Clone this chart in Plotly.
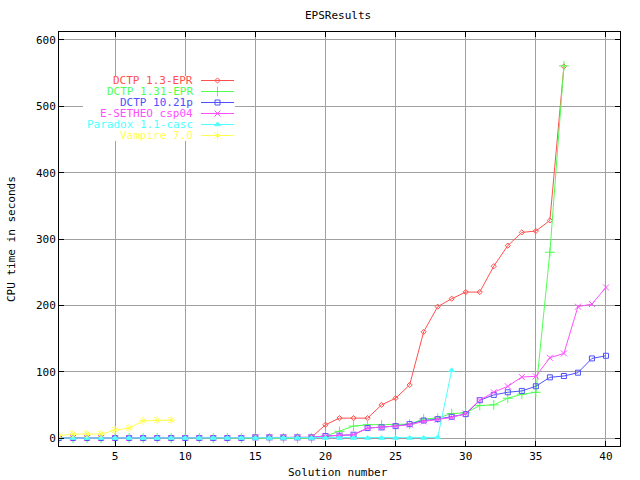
import plotly.graph_objects as go

# ---------------- data ----------------
solution_dctp13 = list(range(1, 38))
time_dctp13 = [0]*14 + [1, 1, 1, 1, 1, 20, 30, 30, 30, 50, 60, 80, 160, 198, 210,
                        220, 220, 259, 290, 310, 312, 328, 560]

solution_dctp131 = list(range(1, 38))
time_dctp131 = [0]*14 + [0, 0, 0, 0, 0, 3, 10, 18, 20, 20, 20, 21, 29, 30, 37,
                         38, 49, 50, 60, 66, 69, 280, 561]

solution_dctp1021 = list(range(1, 41))
time_dctp1021 = [0]*14 + [1, 1, 1, 1, 1, 3, 3.5, 5, 15, 16, 18, 21, 26.5, 28.5, 32,
                          36, 57, 65, 69, 71, 78, 91.5, 93.5, 98.5, 120, 124]

solution_esetheo = list(range(1, 41))
time_esetheo = [0]*14 + [1, 1, 1, 1, 1, 3, 4, 5, 15, 16, 18, 20, 25, 28, 31,
                         37, 57, 69, 78, 92, 93, 121, 127.5, 198, 202, 227]

solution_paradox = list(range(1, 30))
time_paradox = [0]*27 + [1, 102]

solution_vampire = list(range(1, 10))
time_vampire = [3.5, 6, 6, 6, 12, 15, 26, 27, 27]

series_names = ["DCTP 1.3-EPR", "DCTP 1.31-EPR", "DCTP 10.21p",
                "E-SETHEO csp04", "Paradox 1.1-casc", "Vampire 7.0"]
series_x = [solution_dctp13, solution_dctp131, solution_dctp1021,
            solution_esetheo, solution_paradox, solution_vampire]
series_y = [time_dctp13, time_dctp131, time_dctp1021,
            time_esetheo, time_paradox, time_vampire]

x_ticks = [5, 10, 15, 20, 25, 30, 35, 40]
y_ticks = [0, 100, 200, 300, 400, 500, 600]

# ---------------- styles ----------------
colors = ["#ff5050", "#50ff50", "#5050ff", "#ff50ff", "#50ffff", "#ffff50"]
symbols = ["diamond-open", "cross-thin-open", "square-open",
           "x-thin-open", "triangle-up", "asterisk-open"]
sizes = [4, 7, 5, 6, 5, 7]

FONT = "DejaVu Sans Mono"
FS = 11

fig = go.Figure()

for name, xs, ys, c, s, sz in zip(series_names, series_x, series_y, colors, symbols, sizes):
    fig.add_trace(go.Scatter(
        x=xs, y=ys, mode="lines+markers", name=name,
        line=dict(color=c, width=1),
        marker=dict(symbol=s, size=sz, color=c, line=dict(color=c, width=1)),
        showlegend=False, xaxis="x", yaxis="y",
    ))

# ---------------- custom gnuplot-style key (text on the left, sample on the right) ----
# page pixels of the plot frame
L, R, T, B = 59, 620, 32, 446
row0, row_step = 80.5, 11
text_right = 194
sample_x0, sample_x1 = 201, 234
box_x0, box_x1, box_y0, box_y1 = 83, 235, 76, 141

# white box behind the key (hides grid lines like gnuplot does)
fig.add_trace(go.Scatter(
    x=[box_x0, box_x1, box_x1, box_x0, box_x0],
    y=[box_y0, box_y0, box_y1, box_y1, box_y0],
    mode="lines", fill="toself", fillcolor="white", line=dict(width=0, color="white"),
    showlegend=False, xaxis="x2", yaxis="y2", hoverinfo="skip",
))

annotations = []
for i, (name, c, s, sz) in enumerate(zip(series_names, colors, symbols, sizes)):
    yy = row0 + i * row_step
    fig.add_trace(go.Scatter(
        x=[sample_x0, sample_x1], y=[yy, yy], mode="lines",
        line=dict(color=c, width=1), showlegend=False,
        xaxis="x2", yaxis="y2", hoverinfo="skip",
    ))
    fig.add_trace(go.Scatter(
        x=[(sample_x0 + sample_x1) / 2], y=[yy], mode="markers",
        marker=dict(symbol=s, size=sz, color=c, line=dict(color=c, width=1)),
        showlegend=False, xaxis="x2", yaxis="y2", hoverinfo="skip",
    ))
    annotations.append(dict(
        x=text_right, y=yy, xref="x2", yref="y2", text=name, showarrow=False,
        xanchor="right", yanchor="middle", borderpad=0,
        font=dict(family=FONT, size=FS, color=c),
    ))

annotations += [
    dict(text="EPSResults", x=0.497, y=(B - 15) / (B - T), xref="paper", yref="paper",
         showarrow=False, xanchor="center", yanchor="middle",
         font=dict(family=FONT, size=FS, color="black")),
    dict(text="Solution number", x=0.497, y=(B - 472) / (B - T), xref="paper", yref="paper",
         showarrow=False, xanchor="center", yanchor="middle",
         font=dict(family=FONT, size=FS, color="black")),
    dict(text="CPU time in seconds", x=(11 - L) / (R - L), y=0.5, xref="paper", yref="paper",
         showarrow=False, xanchor="center", yanchor="middle", textangle=-90, borderpad=0,
         font=dict(family=FONT, size=FS, color="black")),
]

axis_common = dict(
    showline=True, linecolor="black", linewidth=1, mirror="allticks",
    ticks="inside", ticklen=5, tickcolor="black", tickwidth=1,
    showgrid=True, gridcolor="#a0a0a0", gridwidth=1, zeroline=False,
    tickfont=dict(family=FONT, size=FS, color="black"),
    automargin=False,
)

fig.update_layout(
    width=640, height=480,
    margin=dict(l=L, r=640 - R, t=T, b=480 - B, autoexpand=False),
    paper_bgcolor="white", plot_bgcolor="white",
    showlegend=False,
    xaxis=dict(range=[1, 41], tickvals=x_ticks, **axis_common),
    yaxis=dict(range=[-12, 612], tickvals=y_ticks, **axis_common),
    xaxis2=dict(range=[L, R], overlaying="x", visible=False, fixedrange=True),
    yaxis2=dict(range=[B, T], overlaying="y", visible=False, fixedrange=True),
    annotations=annotations,
)

# remove the default 8px page margin so the 640x480 figure fills the window exactly
fig.write_html("out.html", config={"displayModeBar": False},
               post_script="document.body.style.margin='0px';")
